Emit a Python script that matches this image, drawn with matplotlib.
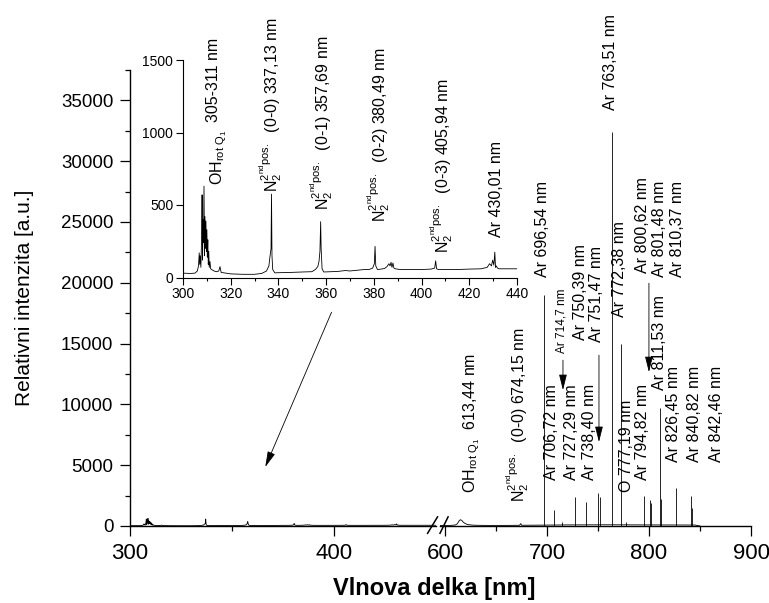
import numpy as np
import matplotlib.pyplot as plt
from matplotlib.ticker import MultipleLocator, FixedLocator

plt.rcParams['font.family'] = ['Liberation Sans', 'DejaVu Sans']
plt.rcParams['mathtext.default'] = 'regular'

# --- emisni spektrum, oblast 300-450 nm (OH + N2 2nd pos.) ---
uv_wl = [300, 303, 305, 306.0, 306.5, 306.8, 307.0, 307.2, 307.5, 307.8,
         308.0, 308.2, 308.4, 308.6, 308.8, 309.0, 309.2, 309.4, 309.6, 309.8,
         310.0, 310.2, 310.4, 310.6, 310.8, 311.0, 311.3, 311.6, 312.0, 313.0,
         314.0, 315.0, 315.5, 316.0, 318, 320, 325, 330, 333, 335,
         336.0, 336.5, 336.9, 337.1, 337.3, 337.6, 338.5, 340, 345, 350,
         354, 355.5, 356.5, 357.0, 357.4, 357.7, 357.9, 358.3, 359, 362,
         365, 368, 370, 373, 376, 378, 379.5, 380.2, 380.5, 380.8,
         381.5, 383, 384.5, 385.5, 386.3, 386.8, 387.2, 387.6, 388.0, 388.4,
         389, 391, 395, 400, 404, 405.5, 405.9, 406.3, 407, 410,
         415, 420, 425, 427.5, 428.5, 429.3, 429.8, 430.3, 430.7, 431.0,
         431.3, 431.8, 432.5, 433.2, 435, 440, 445, 450]
uv_int = [30, 28, 30, 45, 80, 170, 90, 150, 70, 280,
          570, 120, 400, 240, 630, 150, 420, 200, 390, 180,
          330, 140, 260, 90, 180, 70, 110, 60, 55, 45,
          40, 45, 75, 35, 30, 25, 22, 22, 28, 45,
          80, 150, 200, 575, 150, 55, 32, 33, 35, 38,
          40, 55, 75, 110, 180, 385, 200, 60, 38, 40,
          42, 48, 45, 50, 55, 55, 65, 95, 215, 80,
          55, 58, 62, 75, 95, 80, 105, 70, 100, 65,
          60, 55, 55, 55, 58, 65, 115, 60, 55, 55,
          55, 58, 60, 70, 95, 80, 120, 85, 175, 70,
          80, 65, 60, 60, 60, 60, 60, 60]

# --- oblast 595-900 nm: pozadi + pas OH 613 nm ---
nir_wl = [595, 605, 610, 612, 613.5, 615, 616.5, 618, 619.5, 621, 623, 626,
          630, 640, 660, 673, 674.2, 675, 690, 720, 760, 800, 845, 850]
nir_int = [40, 50, 80, 180, 400, 520, 450, 300, 220, 150, 110, 80,
           60, 50, 50, 60, 200, 60, 70, 90, 100, 90, 80, 0]

# --- atomarni cary Ar, O ---
line_wl = [696.54, 706.72, 714.70, 727.29, 738.40, 750.39, 751.47, 763.51,
           772.38, 777.19, 794.82, 800.62, 801.48, 810.37, 811.53, 826.45,
           840.82, 842.46]
line_int = [19000, 1300, 350, 2400, 2000, 2700, 2400, 32400,
            15000, 350, 2450, 2100, 1900, 9700, 2200, 3100,
            2450, 1500]

W, H = 769, 603
fig = plt.figure(figsize=(W / 100, H / 100), dpi=100)

# osa s prerusenim: leva cast 300-450, prava 595-900
ax1 = fig.add_axes([130 / W, 77 / H, 306 / W, 456 / H])
ax2 = fig.add_axes([440 / W, 77 / H, 311 / W, 456 / H], sharey=ax1)

ax1.plot(uv_wl, uv_int, color='k', lw=0.6)
ax2.plot(nir_wl, nir_int, color='k', lw=0.6)
ax2.vlines(line_wl, 0, line_int, colors='k', lw=0.6)

ax1.set_xlim(300, 450)
ax2.set_xlim(595, 900)
ax1.set_ylim(0, 37500)

for s in ['top', 'right']:
    ax1.spines[s].set_visible(False)
for s in ['top', 'right', 'left']:
    ax2.spines[s].set_visible(False)
for a in (ax1, ax2):
    a.patch.set_alpha(0)
    for s in a.spines.values():
        s.set_linewidth(1.0)
    a.tick_params(which='major', direction='out', length=7, width=0.9)
    a.tick_params(which='minor', direction='out', length=3.5, width=0.9)
    a.tick_params(axis='x', labelsize=16, pad=5.5)

ax1.xaxis.set_major_locator(FixedLocator([300, 400]))
ax1.xaxis.set_minor_locator(FixedLocator([350]))
ax2.xaxis.set_major_locator(MultipleLocator(100))
ax2.xaxis.set_minor_locator(MultipleLocator(50))
ax1.yaxis.set_major_locator(MultipleLocator(5000))
ax1.yaxis.set_minor_locator(MultipleLocator(2500))
ax1.tick_params(axis='y', labelsize=13.5, pad=5)
ax2.tick_params(axis='y', which='both', left=False, labelleft=False)

# znacka preruseni osy //
kw = dict(color='k', lw=1.1, clip_on=False)
ax1.plot([0.9725, 1.005], [-0.016, 0.02], transform=ax1.transAxes, **kw)
ax2.plot([0.0, 0.026], [-0.016, 0.02], transform=ax2.transAxes, **kw)

fig.text(25 / W, 1 - 298 / H, 'Relativni intenzita [a.u.]', rotation=90,
         fontsize=15, ha='center', va='center')
fig.text(434 / W, 1 - 589 / H, 'Vlnova delka [nm]', fontsize=17,
         fontweight='bold', ha='center', va='center')

# popisky car
fs = 11.5
tk = dict(rotation=90, ha='center', va='bottom', fontsize=fs)
n2 = r'N$_2^{2^{nd}pos.}$  '
oh = r'OH$_{rot\ Q_1}$  '
ax2.text(671.0, 1972, n2 + '(0-0) 674,15 nm', **tk)
ax2.text(625.9, 2711, oh + '613,44 nm', **tk)
ax2.text(696.0, 20458, 'Ar 696,54 nm', **tk)
ax2.text(762.6, 34179, 'Ar 763,51 nm', **tk)
ax2.text(771.5, 17171, 'Ar 772,38 nm', **tk)
ax2.text(794.0, 20786, 'Ar 800,62 nm', **tk)
ax2.text(810.7, 20458, 'Ar 801,48 nm', **tk)
ax2.text(828.3, 20458, 'Ar 810,37 nm', **tk)
ax2.text(714.6, 14214, 'Ar 714,7 nm', rotation=90, ha='center',
         va='bottom', fontsize=8.5)
ax2.text(732.3, 15282, 'Ar 750,39 nm', **tk)
ax2.text(748.9, 15117, 'Ar 751,47 nm', **tk)
ax2.text(704.8, 3779, 'Ar 706,72 nm', **tk)
ax2.text(724.4, 3779, 'Ar 727,29 nm', **tk)
ax2.text(742.1, 3779, 'Ar 738,40 nm', **tk)
ax2.text(778.3, 2793, 'O 777,19 nm', **tk)
ax2.text(794.0, 3779, 'Ar 794,82 nm', **tk)
ax2.text(810.7, 11174, 'Ar 811,53 nm', **tk)
ax2.text(824.4, 5258, 'Ar 826,45 nm', **tk)
ax2.text(845.0, 5258, 'Ar 840,82 nm', **tk)
ax2.text(866.6, 5258, 'Ar 842,46 nm', **tk)

ap = dict(arrowstyle='-|>,head_length=0.8,head_width=0.2', color='k',
          lw=0.6, mutation_scale=12, shrinkA=0, shrinkB=0)
ax2.annotate('', xy=(715.6, 11174), xytext=(715.6, 13638), arrowprops=ap)
ax2.annotate('', xy=(750.9, 6901), xytext=(750.9, 14049), arrowprops=ap)
ax2.annotate('', xy=(799.9, 12652), xytext=(799.9, 19965), arrowprops=ap)
ax1.annotate('', xy=(366.3, 4850), xytext=(398.8, 17580), arrowprops=ap)

# vlozeny graf 300-440 nm
ins = fig.add_axes([183 / W, 1 - 277.5 / H, 334 / W, 217.5 / H])
ins.plot(uv_wl, uv_int, color='k', lw=0.6)
ins.set_xlim(300, 440)
ins.set_ylim(0, 1500)
ins.spines['top'].set_visible(False)
ins.spines['right'].set_visible(False)
ins.patch.set_alpha(0)
ins.xaxis.set_major_locator(MultipleLocator(20))
ins.xaxis.set_minor_locator(MultipleLocator(10))
ins.yaxis.set_major_locator(MultipleLocator(500))
ins.tick_params(which='major', direction='out', length=5, width=0.8,
                labelsize=10, pad=2)
ins.tick_params(which='minor', direction='out', length=2.5, width=0.8)

ins.text(312.6, 1073, '305-311 nm', **tk)
ins.text(315.1, 638, oh, **tk)
ins.text(336.9, 590, n2 + '(0-0) 337,13 nm', **tk)
ins.text(358.0, 466, n2 + '(0-1) 357,69 nm', **tk)
ins.text(382.1, 383, n2 + '(0-2) 380,49 nm', **tk)
ins.text(408.5, 169, n2 + '(0-3) 405,94 nm', **tk)
ins.text(431.6, 279, 'Ar 430,01 nm', **tk)

fig.savefig('out.png', dpi=100)
